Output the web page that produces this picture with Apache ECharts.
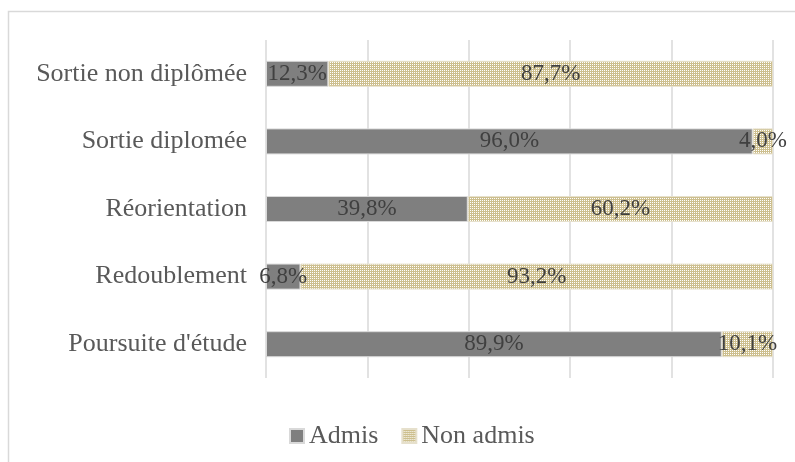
<!DOCTYPE html>
<html>
<head>
<meta charset="utf-8">
<script src="https://cdn.jsdelivr.net/npm/echarts@6/dist/echarts.min.js"></script>
<style>
  html, body { margin: 0; padding: 0; background: #fff; }
  #chart { width: 795px; height: 462px; }
</style>
</head>
<body>
<div id="chart"></div>
<script>
var categories = ["Poursuite d'étude", 'Redoublement', 'Réorientation', 'Sortie diplomée', 'Sortie non diplômée'];
var admis = [89.9, 6.8, 39.8, 96.0, 12.3];
var nonAdmis = [10.1, 93.2, 60.2, 4.0, 87.7];

// small grid pattern like the Excel fill
var pat = document.createElement('canvas');
pat.width = 2; pat.height = 2;
var ctx = pat.getContext('2d');
ctx.fillStyle = '#cdbf8e';
ctx.fillRect(0, 0, 2, 2);
ctx.fillStyle = '#ffffff';
ctx.fillRect(0, 0, 1, 1);

var myChart = echarts.init(document.getElementById('chart'));

function fmt(p) {
  return p.value.toFixed(1).replace('.', ',') + '%';
}

var labelStyle = {
  show: true,
  position: 'inside',
  formatter: fmt,
  color: '#404040',
  fontFamily: 'Liberation Serif',
  fontSize: 23
};

option = {
  animation: false,
  backgroundColor: '#fff',
  textStyle: { fontFamily: 'Liberation Serif' },
  graphic: [{
    type: 'rect',
    shape: { x: 8.5, y: 11.5, width: 900, height: 600 },
    style: { fill: 'none', stroke: '#d9d9d9', lineWidth: 1.5 },
    silent: true
  }],
  grid: { left: 266, right: 22, top: 40, height: 338 },
  legend: {
    left: 284,
    top: 418,
    icon: 'rect',
    itemWidth: 14,
    itemHeight: 14,
    itemGap: 23,
    textStyle: { fontFamily: 'Liberation Serif', fontSize: 26, color: '#595959' },
    data: ['Admis', 'Non admis']
  },
  xAxis: {
    type: 'value',
    min: 0,
    max: 100,
    interval: 20,
    axisLabel: { show: false },
    axisLine: { show: false },
    axisTick: { show: false },
    splitLine: { lineStyle: { color: '#d9d9d9', width: 1.5 } }
  },
  yAxis: {
    type: 'category',
    data: categories,
    axisLine: { show: false },
    axisTick: { show: false },
    axisLabel: { margin: 19, fontFamily: 'Liberation Serif', fontSize: 26, color: '#595959' }
  },
  series: [
    {
      name: 'Admis',
      type: 'bar',
      stack: 'total',
      barWidth: 26,
      data: admis,
      itemStyle: { color: '#7f7f7f', borderColor: '#d9d9d9', borderWidth: 1 },
      label: labelStyle
    },
    {
      name: 'Non admis',
      type: 'bar',
      stack: 'total',
      barWidth: 26,
      data: nonAdmis,
      itemStyle: { color: { image: pat, repeat: 'repeat' }, borderColor: '#e6e0cc', borderWidth: 1 },
      label: labelStyle
    }
  ]
};

myChart.setOption(option);
</script>
</body>
</html>
